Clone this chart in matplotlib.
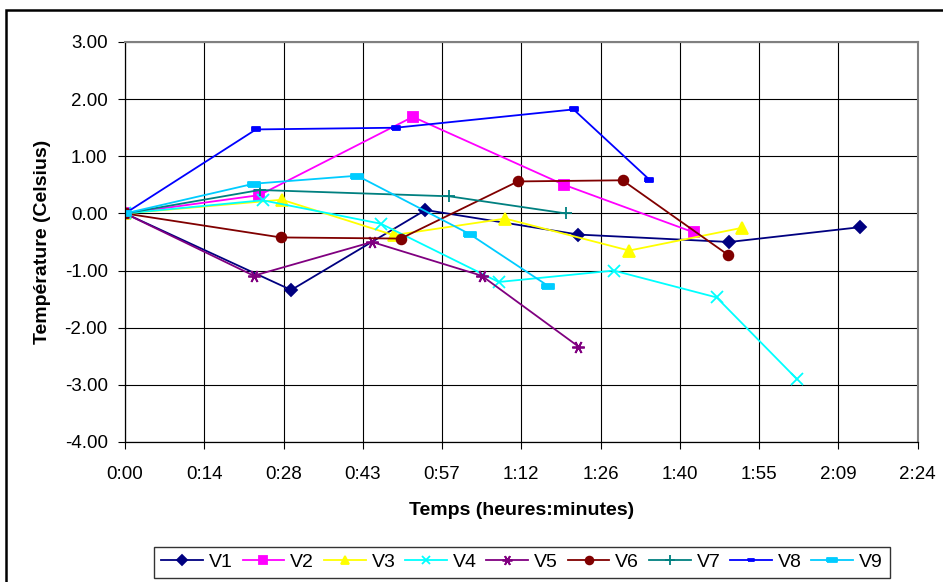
import matplotlib
matplotlib.use("Agg")
import matplotlib.pyplot as plt
from matplotlib.patches import Rectangle

plt.rcParams["font.family"] = ["Liberation Sans", "DejaVu Sans"]

# Temps en minutes, température en degrés Celsius
v1_t = [0, 30.2, 54.6, 82.4, 109.8, 133.6]
v1_y = [0, -1.34, 0.06, -0.37, -0.50, -0.24]
v2_t = [0, 24.4, 52.3, 79.8, 103.3]
v2_y = [0, 0.32, 1.69, 0.50, -0.33]
v3_t = [0, 28.5, 48.8, 69.1, 91.6, 112.2]
v3_y = [0, 0.24, -0.38, -0.09, -0.65, -0.25]
v4_t = [0, 25.0, 46.5, 67.9, 88.8, 107.5, 122.1]
v4_y = [0, 0.23, -0.18, -1.20, -1.00, -1.47, -2.90]
v5_t = [0, 23.4, 44.9, 64.8, 82.4]
v5_y = [0, -1.09, -0.50, -1.09, -2.33]
v6_t = [0, 28.3, 50.1, 71.4, 90.4, 109.5]
v6_y = [0, -0.42, -0.44, 0.56, 0.58, -0.72]
v7_t = [0, 24.5, 58.9, 80.1]
v7_y = [0, 0.41, 0.30, 0.00]
v8_t = [0, 23.8, 49.2, 81.5, 95.3]
v8_y = [0, 1.47, 1.50, 1.82, 0.59]
v9_t = [0, 23.4, 42.2, 62.6, 76.9]
v9_y = [0, 0.52, 0.66, -0.36, -1.27]

x_ticks = [0, 14.4, 28.8, 43.2, 57.6, 72, 86.4, 100.8, 115.2, 129.6, 144]
x_labels = ["0:00", "0:14", "0:28", "0:43", "0:57", "1:12", "1:26",
            "1:40", "1:55", "2:09", "2:24"]
y_ticks = [3, 2, 1, 0, -1, -2, -3, -4]

# marqueur "tiret" façon Excel
dash = [(-1, -0.4), (1, -0.4), (1, 0.4), (-1, 0.4), (-1, -0.4)]

series = [
    ("V1", v1_t, v1_y, "#000080", "D", 6),
    ("V2", v2_t, v2_y, "#FF00FF", "s", 7),
    ("V3", v3_t, v3_y, "#FFFF00", "^", 8),
    ("V4", v4_t, v4_y, "#00FFFF", "x", 8),
    ("V5", v5_t, v5_y, "#800080", (6, 2, 90), 9),
    ("V6", v6_t, v6_y, "#800000", "o", 7),
    ("V7", v7_t, v7_y, "#008080", "+", 9),
    ("V8", v8_t, v8_y, "#0000FF", dash, 6),
    ("V9", v9_t, v9_y, "#00CCFF", dash, 9),
]

fig = plt.figure(figsize=(9.43, 5.82), dpi=100)
ax = fig.add_axes([125 / 943, 1 - 442 / 582, 792.5 / 943, 400 / 582])

for name, t, y, color, marker, ms in series:
    ax.plot(t, y, color=color, lw=1.3, marker=marker, markersize=ms,
            markerfacecolor=color, markeredgecolor=color, markeredgewidth=1.3,
            label=name)

ax.set_xlim(0, 144)
ax.set_ylim(-4, 3)
ax.set_xticks(x_ticks)
ax.set_xticklabels(x_labels)
ax.set_yticks(y_ticks)
ax.set_yticklabels([f"{v:.2f}" for v in y_ticks])
ax.grid(True, color="black", lw=0.8)
ax.set_axisbelow(True)
ax.tick_params(axis="both", direction="out", length=5, width=0.8,
               labelsize=13.5, color="black")
ax.tick_params(axis="y", pad=7.5)
ax.tick_params(axis="x", pad=12)

for side in ["top", "right"]:
    ax.spines[side].set_color("#808080")
    ax.spines[side].set_linewidth(1.5)
for side in ["left", "bottom"]:
    ax.spines[side].set_color("black")
    ax.spines[side].set_linewidth(0.9)

ax.set_ylabel("Température (Celsius)", fontsize=14, fontweight="bold", labelpad=10)
ax.set_xlabel("Temps (heures:minutes)", fontsize=14, fontweight="bold", labelpad=14)

leg = fig.legend(loc="upper center", bbox_to_anchor=(522 / 943, 1 - 546.5 / 582),
                 ncol=9, fontsize=14, frameon=True, fancybox=False,
                 handlelength=2.15, handletextpad=0.3, columnspacing=0.5,
                 borderpad=0.35, borderaxespad=0, markerscale=0.8)
leg.get_frame().set_edgecolor("black")
leg.get_frame().set_linewidth(1.0)

# cadre extérieur du graphique
fig.patches.append(Rectangle((6 / 943, -0.2), 1.2, 1.2 - 9.5 / 582,
                             transform=fig.transFigure, fill=False,
                             edgecolor="black", lw=1.8))

fig.savefig("out.png", dpi=100)
